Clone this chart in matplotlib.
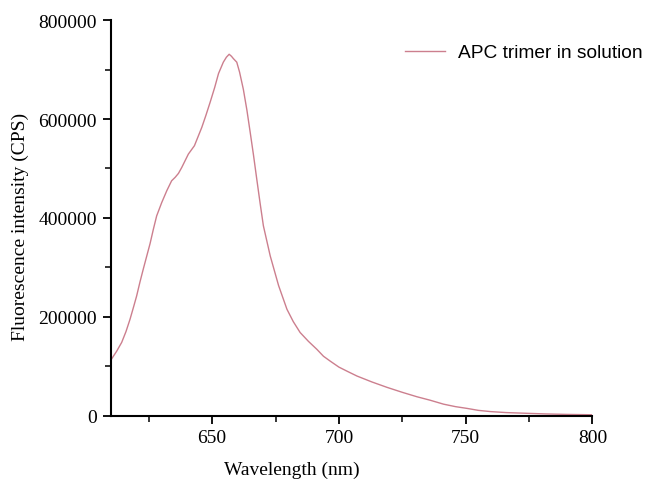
import matplotlib
matplotlib.use('Agg')
import matplotlib.pyplot as plt
from matplotlib.ticker import MultipleLocator

# emission spectrum (intensity in thousands of CPS)
wavelength = [610, 612.3, 614.3, 616, 617.6, 619, 620.2, 621.5, 622.8, 624.2,
              625.5, 626.8, 628.1, 630.1, 632.1, 634, 635.4, 636.7, 638, 640.6,
              643, 645.9, 647.5, 649.2, 651, 652.5, 654.4, 655.6, 656.7, 657.6,
              658.4, 659.7, 660.8, 662.3, 663.7, 665, 666.3, 667.6, 668.9, 670.2,
              672.9, 676.2, 679.5, 682, 684.7, 688, 691.3, 693.9, 696.6, 700,
              703.5, 707.1, 713, 719, 725, 730.8, 736, 741.3, 746, 750.5,
              755, 759.8, 766, 774.3, 782, 790, 800]
intensity = [112, 130, 148, 170, 195, 220, 242, 270, 296, 323,
             348, 377, 404, 431, 455, 475, 482, 490, 502, 529,
             546, 583, 607, 634, 664, 692, 715, 725, 731, 727,
             722, 715, 695, 660, 618, 573, 527, 478, 430, 384,
             323, 263, 215, 190, 168, 150, 134, 120, 110, 98,
             89, 80, 68, 57, 47, 38, 31, 23, 18, 14.5,
             10.5, 8, 6, 4.5, 3.2, 2.3, 1.6]
intensity = [v * 1000 for v in intensity]
series_name = "APC trimer in solution"

fig = plt.figure(figsize=(6.46, 4.81), dpi=100, facecolor='white')
ax = fig.add_axes([0.1715, 0.134, 0.7455, 0.822])

ax.plot(wavelength, intensity, color='#cc7f8e', lw=1.0, label=series_name)

ax.set_xlim(610, 800)
ax.set_ylim(0, 800000)
ax.xaxis.set_major_locator(MultipleLocator(50))
ax.xaxis.set_minor_locator(MultipleLocator(25))
ax.yaxis.set_major_locator(MultipleLocator(200000))
ax.yaxis.set_minor_locator(MultipleLocator(100000))

for side in ['top', 'right']:
    ax.spines[side].set_visible(False)
for side in ['left', 'bottom']:
    ax.spines[side].set_linewidth(1.5)

serif = 'Liberation Serif'
ax.tick_params(which='major', direction='out', length=6, width=1.3,
               labelsize=14, pad=4)
ax.tick_params(which='minor', direction='out', length=4, width=1.1)
for lab in ax.get_xticklabels() + ax.get_yticklabels():
    lab.set_fontfamily(serif)

ax.set_xlabel("Wavelength (nm)", fontsize=14, fontfamily=serif)
ax.set_ylabel("Fluorescence intensity (CPS)", fontsize=14, fontfamily=serif)
ax.xaxis.set_label_coords(0.376, -0.115)
ax.yaxis.set_label_coords(-0.17, 0.48)

leg = ax.legend(loc='upper left', bbox_to_anchor=(0.611, 0.94), frameon=False,
                borderaxespad=0, borderpad=0,
                prop={'family': 'Liberation Sans', 'size': 13.8},
                handlelength=2.1, handletextpad=0.66)

fig.savefig('out.png', dpi=100)
